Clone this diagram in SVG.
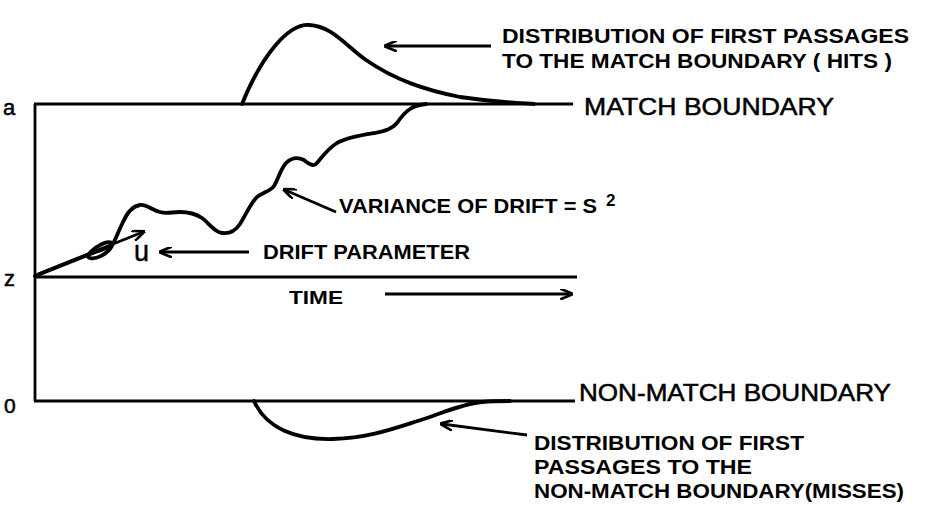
<svg xmlns="http://www.w3.org/2000/svg" width="942" height="523" viewBox="0 0 942 523">
<defs>
<marker id="ah" viewBox="0 0 12 10" refX="10" refY="5" markerWidth="13" markerHeight="11" markerUnits="userSpaceOnUse" orient="auto">
<path d="M0,0 L12,5 L0,10" fill="none" stroke="#000" stroke-width="2.4"/>
</marker>
<style>
.ln{fill:none;stroke:#000;stroke-width:2.8;stroke-linecap:butt}
.cv{fill:none;stroke:#000;stroke-width:3.8;stroke-linecap:round;stroke-linejoin:round}
.ar{fill:none;stroke:#000;stroke-width:2.8;marker-end:url(#ah)}
.t{font-family:"Liberation Sans",Arial,sans-serif;font-weight:bold;fill:#000}
.tn{font-family:"Liberation Sans",Arial,sans-serif;fill:#000;stroke:#000;stroke-width:0.5}
</style>
</defs>
<rect width="942" height="523" fill="#fff"/>
<g id="axes">
<path class="ln" d="M35,104 V401"/>
<path class="ln" d="M34,104 H573"/>
<path class="ln" d="M34,277 H577"/>
<path class="ln" d="M34,401 H575"/>
</g>
<g id="labels-axis">
<text class="tn" x="3" y="115" font-size="22">a</text>
<text class="tn" x="4" y="286" font-size="22">z</text>
<text class="tn" x="4" y="413" font-size="21">0</text>
</g>
<g id="hits-curve">
<path class="cv" d="M242,104 C262,55 288,24 309,25 C332,26 345,45 366,60 C395,80 425,90 460,97 C495,102 520,103 534,104"/>
</g>
<g id="misses-curve">
<path class="cv" d="M254,401 C266,428 295,440 333,439 C370,438 395,428 424,419 C445,412 462,404 482,402 C492,401 502,401 510,401"/>
</g>
<g id="walk">
<path class="cv" d="M35,276 C50,270 70,262 85,256 C95,252 105,249 110,246 C114,243 110,240 102,244 C94,248 84,256 90,258 C96,260 106,254 110,249 C114,244 118,232 123,222 C127,213 133,206 140,205 C146,204 152,210 160,212 C166,214 172,212 180,212 C190,212 196,214 202,218 C208,222 214,232 222,233 C230,234 236,230 240,224 C246,214 250,205 256,198 C262,192 270,192 274,186 C278,180 280,170 286,163 C292,157 298,157 304,160 C308,163 312,167 316,164 C320,160 326,150 337,143 C348,137 362,135 375,133 C385,131 392,129 397,123 C401,117 404,113 410,109 C414,106 418,105 426,104"/>
</g>
<g id="connectors">
<path class="ar" d="M38,274 L143,232"/>
<path class="ar" d="M491,46 L386,46"/>
<path class="ar" d="M249,252 L161,252"/>
<path class="ar" d="M336,212 L285,190"/>
<path class="ar" d="M385,294 L571,294"/>
<path class="ar" d="M527,435 L442,424"/>
</g>
<g id="text-hits">
<text class="t" x="502" y="43" font-size="20" textLength="407" lengthAdjust="spacingAndGlyphs">DISTRIBUTION OF FIRST PASSAGES</text>
<text class="t" x="502" y="68" font-size="20" textLength="390" lengthAdjust="spacingAndGlyphs">TO THE MATCH BOUNDARY ( HITS )</text>
</g>
<g id="text-match">
<text class="tn" x="584" y="115" font-size="24" textLength="250" lengthAdjust="spacingAndGlyphs">MATCH BOUNDARY</text>
</g>
<g id="text-nonmatch">
<text class="tn" x="579" y="401" font-size="24" textLength="312" lengthAdjust="spacingAndGlyphs">NON-MATCH BOUNDARY</text>
</g>
<g id="text-variance">
<text class="t" x="339" y="213" font-size="20" textLength="258" lengthAdjust="spacingAndGlyphs">VARIANCE OF DRIFT = S</text>
<text class="t" x="606" y="206" font-size="17">2</text>
</g>
<g id="text-drift">
<text class="tn" x="134" y="261" font-size="30" textLength="15" lengthAdjust="spacingAndGlyphs">u</text>
<text class="t" x="263" y="259" font-size="20" textLength="207" lengthAdjust="spacingAndGlyphs">DRIFT PARAMETER</text>
</g>
<g id="text-time">
<text class="t" x="289" y="304" font-size="19" textLength="54" lengthAdjust="spacingAndGlyphs">TIME</text>
</g>
<g id="text-misses">
<text class="t" x="534" y="450" font-size="20" textLength="270" lengthAdjust="spacingAndGlyphs">DISTRIBUTION OF FIRST</text>
<text class="t" x="534" y="474" font-size="20" textLength="218" lengthAdjust="spacingAndGlyphs">PASSAGES TO THE</text>
<text class="t" x="534" y="498" font-size="20" textLength="370" lengthAdjust="spacingAndGlyphs">NON-MATCH BOUNDARY(MISSES)</text>
</g>
</svg>
